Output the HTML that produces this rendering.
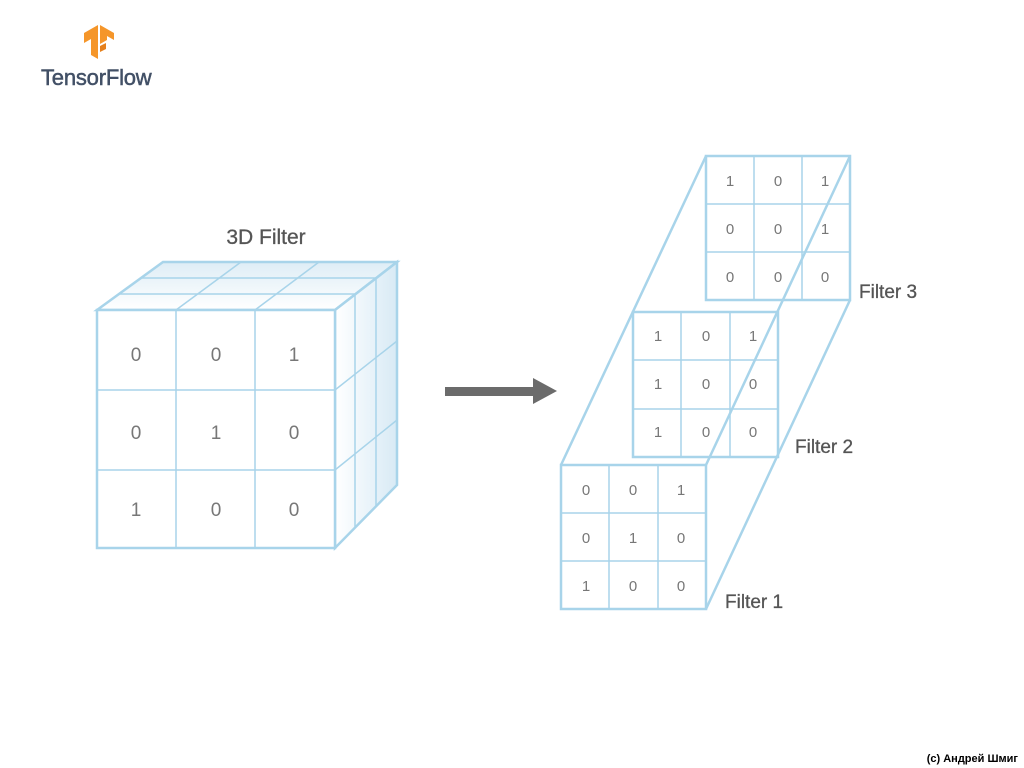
<!DOCTYPE html>
<html><head><meta charset="utf-8"><style>
html,body{margin:0;padding:0;background:#fff;}
svg{display:block;}
text{font-family:"Liberation Sans",sans-serif;}
</style></head><body>
<svg width="1024" height="768" viewBox="0 0 1024 768" xmlns="http://www.w3.org/2000/svg">
<defs>
<linearGradient id="side" x1="0" x2="1" y1="0" y2="0">
<stop offset="0" stop-color="#ffffff"/><stop offset="1" stop-color="#d8eaf5"/></linearGradient>
<linearGradient id="top" x1="0" x2="0" y1="1" y2="0">
<stop offset="0" stop-color="#ffffff"/><stop offset="1" stop-color="#deedf6"/></linearGradient>
</defs>
<!-- logo -->
<g fill="#f5962a">
<polygon points="84,33 98,25 98,59 91,55 91,39 84,43"/>
<polygon points="100,25 114,33 114,40 107,36 107,40 100,44"/>
<polygon points="100,46 106,43 106,49 100,52" fill="#e5801c"/>
</g>
<text x="41" y="85" font-size="22" fill="#425066" letter-spacing="-0.2" stroke="#425066" stroke-width="0.5">TensorFlow</text>

<!-- 3D cube -->
<g stroke="#a8d4ea" fill="none">
<polygon points="97,310 163,262 397,262 335,310" fill="url(#top)" stroke-width="2.5"/>
<polygon points="335,310 397,262 397,485 335,548" fill="url(#side)" stroke-width="2.5"/>
<g stroke-width="1.5">
<line x1="119" y1="294" x2="355" y2="294"/>
<line x1="141" y1="278" x2="376" y2="278"/>
<line x1="176" y1="310" x2="241" y2="262"/>
<line x1="255" y1="310" x2="319" y2="262"/>
<line x1="355" y1="294" x2="355" y2="527"/>
<line x1="376" y1="278" x2="376" y2="506"/>
<line x1="335" y1="390" x2="397" y2="341"/>
<line x1="335" y1="470" x2="397" y2="420"/>
</g>
<rect x="97" y="310" width="238" height="238" fill="#fff" stroke-width="2.5"/>
<g stroke-width="1.5">
<line x1="176" y1="310" x2="176" y2="548"/><line x1="255" y1="310" x2="255" y2="548"/>
<line x1="97" y1="390" x2="335" y2="390"/><line x1="97" y1="470" x2="335" y2="470"/>
</g>
</g>
<g font-size="19" fill="#777" text-anchor="middle">
<text x="136" y="361">0</text><text x="216" y="361">0</text><text x="294" y="361">1</text>
<text x="136" y="439">0</text><text x="216" y="439">1</text><text x="294" y="439">0</text>
<text x="136" y="516">1</text><text x="216" y="516">0</text><text x="294" y="516">0</text>
</g>
<text x="266" y="244" font-size="21" fill="#555" text-anchor="middle" stroke="#555" stroke-width="0.3">3D Filter</text>

<!-- arrow -->
<rect x="445" y="387" width="92" height="9" fill="#6b6b6b"/>
<polygon points="533,378 557,391 533,404" fill="#6b6b6b"/>

<!-- filter stack -->
<g stroke="#a8d4ea" fill="#fff">
<rect x="706" y="156" width="144" height="144" stroke-width="2.5"/>
<g stroke-width="1.5"><line x1="754" y1="156" x2="754" y2="300"/><line x1="802" y1="156" x2="802" y2="300"/><line x1="706" y1="204" x2="850" y2="204"/><line x1="706" y1="252" x2="850" y2="252"/></g>
<rect x="633" y="312" width="145" height="145" stroke-width="2.5"/>
<g stroke-width="1.5"><line x1="681" y1="312" x2="681" y2="457"/><line x1="730" y1="312" x2="730" y2="457"/><line x1="633" y1="360" x2="778" y2="360"/><line x1="633" y1="409" x2="778" y2="409"/></g>
<g stroke-width="2.5" fill="none">
<line x1="561" y1="465" x2="706" y2="156"/>
<line x1="706" y1="465" x2="850" y2="156"/>
<line x1="706" y1="609" x2="850" y2="300"/>
</g>
<rect x="561" y="465" width="145" height="144" stroke-width="2.5"/>
<g stroke-width="1.5"><line x1="609" y1="465" x2="609" y2="609"/><line x1="658" y1="465" x2="658" y2="609"/><line x1="561" y1="513" x2="706" y2="513"/><line x1="561" y1="561" x2="706" y2="561"/></g>
</g>
<g font-size="15" fill="#777" text-anchor="middle">
<text x="730" y="186">1</text><text x="778" y="186">0</text><text x="825" y="186">1</text>
<text x="730" y="234">0</text><text x="778" y="234">0</text><text x="825" y="234">1</text>
<text x="730" y="282">0</text><text x="778" y="282">0</text><text x="825" y="282">0</text>
<text x="658" y="341">1</text><text x="706" y="341">0</text><text x="753" y="341">1</text>
<text x="658" y="389">1</text><text x="706" y="389">0</text><text x="753" y="389">0</text>
<text x="658" y="437">1</text><text x="706" y="437">0</text><text x="753" y="437">0</text>
<text x="586" y="495">0</text><text x="633" y="495">0</text><text x="681" y="495">1</text>
<text x="586" y="543">0</text><text x="633" y="543">1</text><text x="681" y="543">0</text>
<text x="586" y="591">1</text><text x="633" y="591">0</text><text x="681" y="591">0</text>
</g>
<g font-size="19" fill="#555" stroke="#555" stroke-width="0.3">
<text x="859" y="298">Filter 3</text>
<text x="795" y="453">Filter 2</text>
<text x="725" y="608">Filter 1</text>
</g>
<text x="1018" y="762" font-size="11" font-weight="bold" fill="#000" text-anchor="end">(c) Андрей Шмиг</text>
</svg>
</body></html>
